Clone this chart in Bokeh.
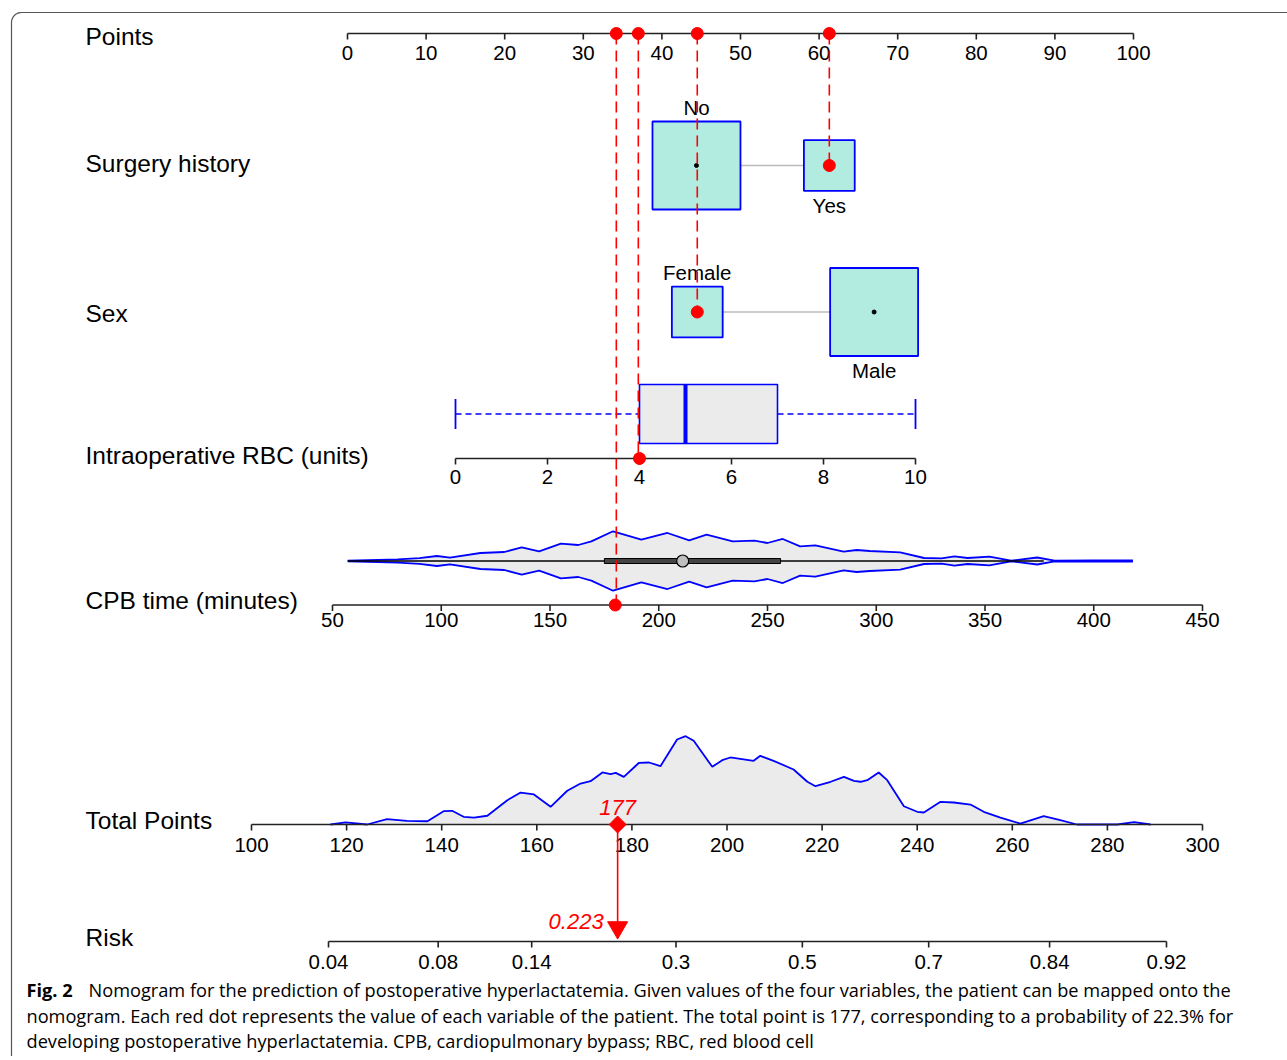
import numpy as np
from bokeh.plotting import figure
from bokeh.models import Range1d
from bokeh.core.properties import value
from bokeh.embed import file_html
from bokeh.resources import INLINE

# ---------------- data ----------------
points_ticks = [0, 10, 20, 30, 40, 50, 60, 70, 80, 90, 100]

surgery_levels = ["No", "Yes"]
surgery_points = [44.4, 61.3]
surgery_freq = [0.75, 0.25]

sex_levels = ["Female", "Male"]
sex_points = [44.5, 67.0]
sex_freq = [0.25, 0.75]

rbc_ticks = [0, 2, 4, 6, 8, 10]
rbc_stats = [0, 4, 5, 7, 10]  # min, q1, median, q3, max

cpb_ticks = [50, 100, 150, 200, 250, 300, 350, 400, 450]
cpb_grid = [57, 80, 90, 98, 104, 118, 129, 137, 145, 155, 163, 169, 179, 192, 204,
            214, 222, 234, 244, 250, 257, 265, 272, 285, 291, 297, 311, 322,
            330, 336, 342, 352, 362, 374, 382, 400, 418]
cpb_density = [0.01, 0.057, 0.1, 0.168, 0.111, 0.269, 0.303, 0.461, 0.327, 0.582,
               0.539, 0.663, 1.0, 0.717, 0.943, 0.697, 0.886, 0.663, 0.684, 0.606,
               0.741, 0.495, 0.529, 0.313, 0.37, 0.337, 0.293, 0.101, 0.091,
               0.158, 0.101, 0.145, 0.01, 0.118, 0.01, 0.024, 0.017]
cpb_stats = [57, 175, 211, 256, 377]  # whisker low, q1, median, q3, whisker high

total_ticks = [100, 120, 140, 160, 180, 200, 220, 240, 260, 280, 300]
total_grid = [116.6, 119.8, 124.3, 128.5, 132.7, 137.0, 140.4, 142.2, 144.6, 146.8,
              149.6, 153.8, 156.6, 159.4, 162.9, 166.4, 169.2, 171.3, 173.8, 175.5,
              176.6, 178.3, 181.5, 183.6, 186.0, 189.5, 191.3, 193.0, 196.9, 199.0,
              200.7, 205.6, 207.0, 209.8, 214.0, 216.9, 218.6, 221.8, 224.6, 226.7,
              228.1, 229.5, 231.9, 233.7, 237.2, 240.0, 241.4, 244.9, 247.7, 251.2,
              254.0, 257.5, 261.7, 266.6, 270.1, 273.6, 282.1, 285.6, 289.1]
total_density = [0.0, 0.023, 0.0, 0.06, 0.042, 0.037, 0.151, 0.155, 0.087, 0.079,
                 0.099, 0.275, 0.362, 0.34, 0.2, 0.382, 0.464, 0.49, 0.589, 0.57,
                 0.585, 0.54, 0.699, 0.702, 0.66, 0.963, 1.0, 0.948, 0.653, 0.728,
                 0.759, 0.721, 0.778, 0.721, 0.623, 0.484, 0.434, 0.484, 0.54, 0.495,
                 0.484, 0.502, 0.589, 0.502, 0.207, 0.144, 0.136, 0.257, 0.249, 0.226,
                 0.144, 0.079, 0.01, 0.094, 0.049, 0.0, 0.0, 0.026, 0.0]

risk_ticks = [0.04, 0.08, 0.14, 0.3, 0.5, 0.7, 0.84, 0.92]

patient_surgery = "Yes"
patient_sex = "Female"
patient_rbc = 4
patient_cpb = 180
patient_points = [61.3, 44.5, 37.0, 34.2]  # surgery, sex, RBC, CPB
patient_total = 177
patient_risk = 0.223

row_labels = ["Points", "Surgery history", "Sex", "Intraoperative RBC (units)",
              "CPB time (minutes)", "Total Points", "Risk"]

caption_bold = "Fig. 2"
caption_lines = [
    "Nomogram for the prediction of postoperative hyperlactatemia. Given values of the four variables, the patient can be mapped onto the",
    "nomogram. Each red dot represents the value of each variable of the patient. The total point is 177, corresponding to a probability of 22.3% for",
    "developing postoperative hyperlactatemia. CPB, cardiopulmonary bypass; RBC, red blood cell",
]

# ---------------- layout (page pixels) ----------------
W, H = 1287, 1056
FONT = "Liberation Sans"
CAP_FONT = "Open Sans"
BLUE = "#0000FF"
RED = "#FF0000"
AX_COL = "#222222"

PTS_PX = (347, 1133)
RBC_PX = (455, 915)
CPB_PX = (332, 1202)
TOT_PX = (251, 1202)
RISK_PX = (328, 1166)

Y_PTS, Y_SURG, Y_SEX, Y_RBC_BOX, Y_RBC, Y_CPB_V, Y_CPB, Y_TOT, Y_RISK = \
    33, 165, 311.5, 413.5, 458, 560.5, 604.5, 824, 941
LABEL_MID = [36, 163, 313, 455, 600, 820, 937]


def lin(v, v0, v1, px):
    v = np.asarray(v, dtype=float)
    return px[0] + (v - v0) / (v1 - v0) * (px[1] - px[0])


def px_pts(v):
    return lin(v, 0, 100, PTS_PX)


def px_rbc(v):
    return lin(v, 0, 10, RBC_PX)


def px_cpb(v):
    return lin(v, 50, 450, CPB_PX)


def px_tot(v):
    return lin(v, 100, 300, TOT_PX)


def logit(p):
    p = np.asarray(p, dtype=float)
    return np.log(p / (1 - p))


def px_risk(v):
    return lin(logit(v), float(logit(0.04)), float(logit(0.92)), RISK_PX)


p = figure(width=W, height=H, x_range=Range1d(0, W), y_range=Range1d(H, 0),
           output_backend="svg", toolbar_location=None, min_border=0,
           x_axis_location=None, y_axis_location=None)
p.grid.visible = False
p.outline_line_color = None
p.background_fill_color = "white"
p.border_fill_color = "white"

# frame border with rounded corner
ang = np.linspace(np.pi, 1.5 * np.pi, 12)
bx = [11] + list(21 + 10 * np.cos(ang)) + [1300]
by = [1070] + list(22 + 10 * np.sin(ang)) + [12]
p.line(bx, by, line_color="#555555", line_width=1.2)


def txt(xs, ys, texts, size, align="left", color="black", style="normal", font=FONT):
    p.text(x=list(xs), y=list(ys), text=list(texts), text_font=value(font),
           text_font_size=size, text_align=align, text_baseline="middle",
           text_color=color, text_font_style=style)


def axis(xs, y, labels, off):
    xs = list(xs)
    p.segment(x0=[min(xs)], y0=[y], x1=[max(xs)], y1=[y], line_color=AX_COL, line_width=1.6)
    p.segment(x0=xs, y0=[y] * len(xs), x1=xs, y1=[y + 6] * len(xs),
              line_color=AX_COL, line_width=1.6)
    txt(xs, [y + off] * len(xs), labels, "20.5px", align="center")


# row labels
txt([85] * len(row_labels), LABEL_MID, row_labels, "24.5px")

# ---- categorical rows ----
def cat_row(levels, pts, freq, yc, patient):
    xs = px_pts(pts)
    sides = 101.6 * np.sqrt(np.asarray(freq))
    p.segment(x0=[xs[0] + sides[0] / 2], y0=[yc], x1=[xs[1] - sides[1] / 2], y1=[yc],
              line_color="#BBBBBB", line_width=1.5)
    p.rect(x=list(xs), y=[yc] * 2, width=list(sides), height=list(sides),
           fill_color="#B2EBE0", line_color=BLUE, line_width=1.8)
    others = [x for x, l in zip(xs, levels) if l != patient]
    p.scatter(x=others, y=[yc] * len(others), size=4, color="black")
    txt([xs[0]], [yc - sides[0] / 2 - 14], [levels[0]], "20.5px", align="center")
    txt([xs[1]], [yc + sides[1] / 2 + 15], [levels[1]], "20.5px", align="center")


cat_row(surgery_levels, surgery_points, surgery_freq, Y_SURG, patient_surgery)
cat_row(sex_levels, sex_points, sex_freq, Y_SEX, patient_sex)

# ---- RBC boxplot ----
rmin, rq1, rmed, rq3, rmax = [float(v) for v in px_rbc(rbc_stats)]
p.segment(x0=[rmin, rq3], y0=[Y_RBC_BOX] * 2, x1=[rq1, rmax], y1=[Y_RBC_BOX] * 2,
          line_color=BLUE, line_width=1.6, line_dash="6 4")
p.segment(x0=[rmin, rmax], y0=[Y_RBC_BOX - 15] * 2, x1=[rmin, rmax], y1=[Y_RBC_BOX + 15] * 2,
          line_color=BLUE, line_width=1.8)
p.quad(left=[rq1], right=[rq3], top=[Y_RBC_BOX - 29.5], bottom=[Y_RBC_BOX + 29.5],
       fill_color="#EBEBEB", line_color=BLUE, line_width=1.6)
p.segment(x0=[rmed], y0=[Y_RBC_BOX - 29.5], x1=[rmed], y1=[Y_RBC_BOX + 29.5],
          line_color=BLUE, line_width=4)
axis(px_rbc(rbc_ticks), Y_RBC, [str(t) for t in rbc_ticks], 18.5)

# ---- CPB violin ----
vx = px_cpb(cpb_grid)
hw = 29.7 * np.asarray(cpb_density)
up = Y_CPB_V - hw
lo = Y_CPB_V + hw
p.patch(list(vx) + list(vx[::-1]), list(up) + list(lo[::-1]),
        fill_color="#EBEBEB", line_color=None)
p.line(list(vx), list(up), line_color=BLUE, line_width=1.8)
p.line(list(vx), list(lo), line_color=BLUE, line_width=1.8)
cw0, cq1, cmed, cq3, cw1 = [float(v) for v in px_cpb(cpb_stats)]
p.segment(x0=[cw0], y0=[Y_CPB_V], x1=[cw1], y1=[Y_CPB_V], line_color="black", line_width=1.5)
p.quad(left=[cq1], right=[cq3], top=[Y_CPB_V - 2.5], bottom=[Y_CPB_V + 2.5],
       fill_color="#444444", line_color="black", line_width=1)
p.scatter(x=[cmed], y=[Y_CPB_V], size=12, fill_color="#BEBEBE", line_color="black",
          line_width=1.2)
axis(px_cpb(cpb_ticks), Y_CPB, [str(t) for t in cpb_ticks], 15)

# ---- Total points density ----
tx = px_tot(total_grid)
th = Y_TOT - 88.3 * np.asarray(total_density)
p.patch([tx[0]] + list(tx) + [tx[-1]], [Y_TOT] + list(th) + [Y_TOT],
        fill_color="#EBEBEB", line_color=None)
p.line(list(tx), list(th), line_color=BLUE, line_width=1.8)
axis(px_tot(total_ticks), Y_TOT, [str(t) for t in total_ticks], 20)

# ---- Risk axis ----
axis(px_risk(risk_ticks), Y_RISK, [f"{t:g}" for t in risk_ticks], 20)

# ---- Points axis ----
axis(px_pts(points_ticks), Y_PTS, [str(t) for t in points_ticks], 19)

# ---- patient mapping ----
line_x = px_pts(patient_points)
targets = [Y_SURG, Y_SEX, Y_RBC, Y_CPB]
p.segment(x0=list(line_x), y0=[Y_PTS] * 4, x1=list(line_x), y1=targets,
          line_color=RED, line_width=1.6, line_dash="11 6")
p.scatter(x=list(line_x), y=[Y_PTS] * 4, size=12, color=RED)
dot_x = [float(px_pts(surgery_points[surgery_levels.index(patient_surgery)])),
         float(px_pts(sex_points[sex_levels.index(patient_sex)])),
         float(px_rbc(patient_rbc)), float(px_cpb(patient_cpb))]
p.scatter(x=dot_x, y=targets, size=12, color=RED)

xt = float(px_tot(patient_total))
p.segment(x0=[xt], y0=[Y_TOT], x1=[xt], y1=[Y_RISK - 14], line_color=RED, line_width=1.6)
p.scatter(x=[xt], y=[Y_TOT], marker="square", angle=np.pi / 4, size=12, color=RED)
p.scatter(x=[xt], y=[Y_RISK - 14], marker="inverted_triangle", size=20, color=RED)
txt([xt], [Y_TOT - 17], [f"{patient_total}"], "22px", align="center", color=RED, style="italic")
txt([xt - 14], [Y_RISK - 20], [f"{patient_risk:.3f}"], "22px", align="right", color=RED,
    style="italic")

# ---- caption ----
txt([26], [989], [caption_bold], "18.2px", style="bold", font=CAP_FONT)
txt([88, 26, 26], [989, 1015, 1040], caption_lines, "18.2px", font=CAP_FONT)

open("out.html", "w").write(file_html(p, INLINE))
